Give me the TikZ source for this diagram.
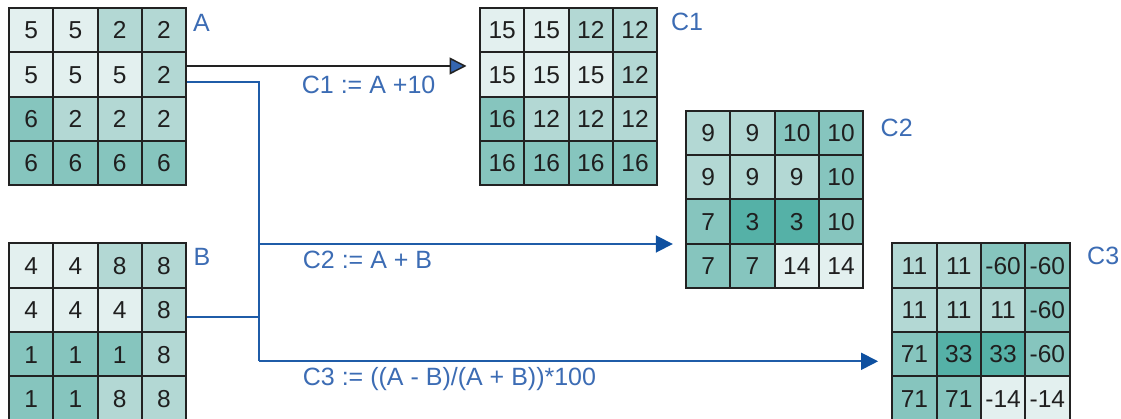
\documentclass[tikz,border=0pt]{standalone}
\usepackage{fontspec}
\setmainfont{Liberation Sans}
\usetikzlibrary{arrows.meta}
\definecolor{cL}{HTML}{E3F0EF}
\definecolor{cM}{HTML}{B3D8D4}
\definecolor{cH}{HTML}{86C5BE}
\definecolor{cD}{HTML}{55B1A7}
\definecolor{gridline}{HTML}{222222}
\definecolor{lineblue}{HTML}{1F5CA8}
\definecolor{labelblue}{HTML}{3C6CB4}
\definecolor{tipblue}{HTML}{0E50A0}
\definecolor{tipblueC}{HTML}{3566B0}
\tikzset{
  cell/.style={draw=gridline, line width=2pt, minimum size=44.3pt, inner sep=0pt,
    font=\fontsize{24.5}{24.5}\selectfont, text=black!88, text height=17.6pt, text depth=0pt},
  gridbox/.style={minimum size=177.2pt, inner sep=0pt},
  lbl/.style={text=labelblue, font=\fontsize{25}{25}\selectfont, inner sep=0pt, anchor=base west},
  blackconn/.style={draw=gridline, line width=1.5pt,
    -{Triangle[length=17pt,width=17pt,fill=tipblueC]}},
  blueline/.style={draw=lineblue, line width=1.8pt},
  blueconn/.style={draw=lineblue, line width=1.8pt,
    -{Triangle[length=17pt,width=17pt,fill=tipblue,color=tipblue]}}
}
\newcommand\drawgrid[4]{%
  \node[gridbox] (#1) at (#2+88.6,#3+88.6) {};
  \foreach \f/\n [count=\i from 0] in {#4}{%
    \pgfmathtruncatemacro\rr{div(\i,4)+1}%
    \pgfmathtruncatemacro\cc{mod(\i,4)+1}%
    \node[cell, fill=\f] (#1-\rr-\cc) at ({#2+(\cc-0.5)*44.3},{#3+(\rr-0.5)*44.3}) {\n};
  }%
}
\begin{document}
\begin{tikzpicture}[x=1pt,y=-1pt]
\fill[white] (0,0) rectangle (1121,419);
\useasboundingbox (0,0) rectangle (1121,419);

\drawgrid{A}{9}{8}{cL/5,cL/5,cM/2,cM/2, cL/5,cL/5,cL/5,cM/2, cH/6,cM/2,cM/2,cM/2, cH/6,cH/6,cH/6,cH/6}
\drawgrid{B}{9}{243.5}{cL/4,cL/4,cM/8,cM/8, cL/4,cL/4,cL/4,cM/8, cH/1,cH/1,cH/1,cM/8, cH/1,cH/1,cM/8,cM/8}
\drawgrid{C1}{480}{8}{cL/15,cL/15,cM/12,cM/12, cL/15,cL/15,cL/15,cM/12, cH/16,cM/12,cM/12,cM/12, cH/16,cH/16,cH/16,cH/16}
\drawgrid{C2}{686}{110.7}{cM/9,cM/9,cH/10,cH/10, cM/9,cM/9,cM/9,cH/10, cH/7,cD/3,cD/3,cH/10, cH/7,cH/7,cL/14,cL/14}
\drawgrid{C3}{892.3}{243.3}{cM/11,cM/11,cH/-60,cH/-60, cM/11,cM/11,cM/11,cH/-60, cH/71,cD/33,cD/33,cH/-60, cH/71,cH/71,cL/-14,cL/-14}

\node[lbl] (lA) at (193,31.7) {A};
\node[lbl] (lB) at (193.5,265.7) {B};
\node[lbl] (lC1) at (670.8,30.7) {C1};
\node[lbl] (lC2) at (880.5,136.7) {C2};
\node[lbl] (lC3) at (1087,265) {C3};

\coordinate (cout) at ([yshift=8.45pt]A-2-4.east);
\coordinate (aout) at ([yshift=-7.85pt]A-2-4.east);
\coordinate (bout) at ([yshift=-7.35pt]B-2-4.east);
\coordinate (jm) at (259.3,244);
\coordinate (jb) at (259.3,361.3);

\draw[blackconn, shorten >=13.3pt] (cout) -- (cout -| C1.west);
\draw[blueline] (aout) -| (jb);
\draw[blueline] (bout) -- (bout -| jb);
\draw[blueconn, shorten >=13pt] (jm) -- (jm -| C2.west);
\draw[blueconn, shorten >=14pt] (jb) -- (jb -| C3.west);

\node[lbl] (f1) at (301.7,93.3) {C1 := A +10};
\node[lbl] (f2) at (302.7,269) {C2 := A + B};
\node[lbl] (f3) at (302.7,385.7) {C3 := ((A - B)/(A + B))*100};
\end{tikzpicture}
\end{document}
